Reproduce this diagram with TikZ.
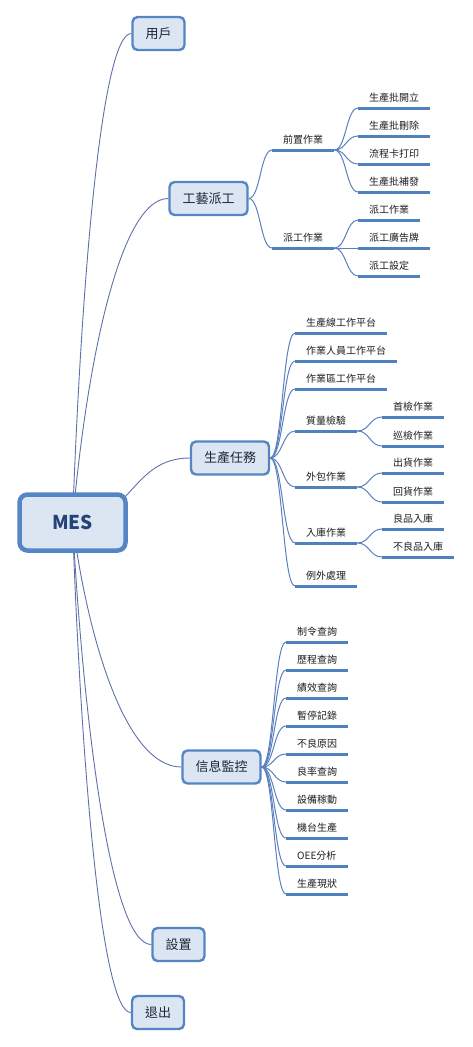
\documentclass[tikz,border=0pt]{standalone}
\usepackage{fontspec}
\setmainfont{Noto Sans CJK TC}
\usepackage{tikz}
\usetikzlibrary{calc,backgrounds}
\definecolor{boxfill}{RGB}{220,230,242}
\definecolor{boxline}{RGB}{84,133,196}
\definecolor{ulblue}{RGB}{79,129,189}
\definecolor{linkblue}{RGB}{90,128,190}
\definecolor{trunkblue}{RGB}{96,112,170}
\definecolor{mestext}{RGB}{36,68,120}
\definecolor{topictext}{RGB}{28,38,58}
\definecolor{leaftext}{RGB}{30,30,30}
\tikzset{
    % topic boxes
    central/.style={draw=boxline, fill=boxfill, line width=4.5pt, rounded corners=8pt,
        minimum width=106pt, minimum height=56pt, text=mestext,
        font=\fontsize{19}{22}\selectfont\bfseries},
    topic/.style={draw=boxline, fill=boxfill, line width=2.4pt, rounded corners=5pt,
        inner xsep=13pt, minimum height=33pt, text=topictext,
        font=\fontsize{13}{15}\selectfont},
    % underlined subtopics
    ul/.style={draw=ulblue, line width=3pt},
    leaf/.style={anchor=south west, inner xsep=11pt, inner ysep=6pt, text=leaftext,
        text height=8.2pt, text depth=0.8pt, font=\fontsize{10}{12}\selectfont,
        append after command={(\tikzlastnode.south west) edge[ul] (\tikzlastnode.south east)}},
    % connectors
    twig/.style={draw=linkblue, line width=1pt,
        to path={let \p1=(\tikztostart), \p2=(\tikztotarget) in
            .. controls ({(\x1+\x2)/2},\y1) and ({(\x1+\x2)/2},\y2) .. (\tikztotarget)}},
    trunk/.style={draw=trunkblue, line width=0.9pt,
        to path={let \p1=(\tikztostart), \p2=(\tikztotarget) in
            .. controls ({\x1+0.15*(\x2-\x1)},{\y1+0.5*(\y2-\y1)}) and ({(\x1+\x2)/2},\y2) .. (\tikztotarget)}}
}
\begin{document}
\begin{tikzpicture}[x=1pt, y=-1pt]
\useasboundingbox (0,0) rectangle (472,1047);

% Central topic and main topics
\node[central] (mes) at (72.5,522.5) {MES};
\node[topic] (user) at (158.5,33.5) {用戶};
\node[topic] (craft) at (208.5,198.5) {工藝派工};
\node[topic] (task) at (230,458) {生產任務};
\node[topic] (monitor) at (221.5,767) {信息監控};
\node[topic] (setup) at (178.5,944.5) {設置};
\node[topic] (quit) at (158,1012.5) {退出};

% Links from the centre (behind the boxes)
\begin{scope}[on background layer]
    \foreach \t in {user,craft,monitor,setup,quit}
        \draw[trunk] (mes.center) to (\t.west);
    \draw[twig, draw=trunkblue, line width=0.9pt] (mes.center) to (task.west);
\end{scope}

% 工藝派工
\node[leaf] (pre) at (272,150) {前置作業};
\node[leaf] (disp) at (272,248) {派工作業};
\draw[twig] (craft.east) to (pre.south west);
\draw[twig] (craft.east) to (disp.south west);
\foreach \txt [count=\i] in {生產批開立,生產批刪除,流程卡打印,生產批補發} {
    \node[leaf] (pre\i) at (358,80+28*\i) {\txt};
    \draw[twig] (pre.south east) to (pre\i.south west);
}
\foreach \txt [count=\i] in {派工作業,派工廣告牌,派工設定} {
    \node[leaf] (disp\i) at (358,192+28*\i) {\txt};
    \draw[twig] (disp.south east) to (disp\i.south west);
}

% 生產任務
\foreach \txt/\nd/\yy in {生產線工作平台/line/333, 作業人員工作平台/staff/361, 作業區工作平台/area/389,
        質量檢驗/qc/431, 外包作業/out/487, 入庫作業/stock/543, 例外處理/except/586} {
    \node[leaf] (\nd) at (295,\yy) {\txt};
    \draw[twig] (task.east) to (\nd.south west);
}
\foreach \txt/\nd/\up/\yy in {首檢作業/qc1/qc/417, 巡檢作業/qc2/qc/446, 出貨作業/out1/out/473,
        回貨作業/out2/out/502, 良品入庫/stock1/stock/529, 不良品入庫/stock2/stock/557} {
    \node[leaf] (\nd) at (382,\yy) {\txt};
    \draw[twig] (\up.south east) to (\nd.south west);
}

% 信息監控
\foreach \txt [count=\i] in {制令查詢,歷程查詢,績效查詢,暫停記錄,不良原因,良率查詢,設備稼動,機台生產,OEE分析,生產現狀} {
    \node[leaf] (mon\i) at (286,614+28*\i) {\txt};
    \draw[twig] (monitor.east) to (mon\i.south west);
}
\end{tikzpicture}
\end{document}
